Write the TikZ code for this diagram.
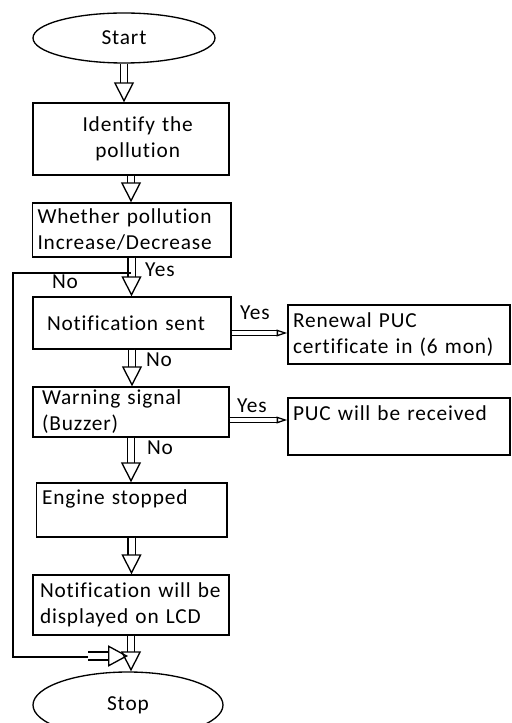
\documentclass[tikz,border=0pt]{standalone}
\usepackage{fontspec}
\setmainfont[Ligatures={NoCommon},LetterSpace=4]{Carlito}
\usetikzlibrary{shapes.geometric,arrows.meta}

\begin{document}
\begin{tikzpicture}[x=0.75pt,y=-0.75pt,line width=1pt,
	every node/.style={font=\fontsize{16}{19.5}\selectfont},
	ovalnode/.style={ellipse,draw,inner sep=0pt},
	squarednode/.style={rectangle,draw,inner ysep=0pt,align=left},
	blockarrow/.style={double,double distance=4.5pt,-{Triangle[open,length=15pt,width=15pt]}},
	widearrow/.style={double,double distance=5pt,-{Triangle[open,length=15pt,width=16pt]}},
	sidearrow/.style={double,double distance=3pt,-{Triangle[open,length=8pt,width=5pt]}}]
	
	\useasboundingbox (0,0) rectangle (511,723);
	
	\node [ovalnode, minimum width=136.5pt, minimum height=37.5pt] (0) at (124, 38) {Start};
	\node [squarednode, minimum width=147pt, minimum height=54pt, text width=136pt, align=center] (1) at (131, 139) {\hspace*{10pt}Identify the\\\hspace*{10pt}pollution};
	\node [squarednode, minimum width=149pt, minimum height=40.5pt, inner xsep=4pt, text width=141pt] (2) at (131.5, 230) {Whether pollution\\Increase/Decrease};
	\node [squarednode, minimum width=148.5pt, minimum height=39pt, inner xsep=10.5pt, text width=127.5pt] (3) at (132, 323) {Notification sent};
	\node [squarednode, minimum width=147pt, minimum height=37.5pt, inner xsep=6.75pt, text width=133.5pt] (4) at (131, 412) {Warning signal\\(Buzzer)};
	\node [squarednode, minimum width=143pt, minimum height=40.5pt, inner xsep=4.5pt, text width=134pt] (5) at (131.5, 510) {Engine stopped\\\mbox{}};
	\node [squarednode, minimum width=147pt, minimum height=45pt, inner xsep=5.25pt, text width=136.5pt] (6) at (131, 605) {Notification will be\\displayed on LCD};
	\node [ovalnode, minimum width=142.5pt, minimum height=49.5pt] (7) at (128, 705) {Stop};
	\node [squarednode, minimum width=166.5pt, minimum height=44.25pt, inner xsep=3.75pt, text width=159pt] (8) at (399, 334.5) {Renewal PUC\\certificate in (6 mon)};
	\node [squarednode, minimum width=166.5pt, minimum height=42.75pt, inner xsep=3.75pt, text width=159pt] (9) at (399, 426.5) {PUC will be received\\\mbox{}};
	
	\node (10) at (160, 270) {Yes};
	\node (11) at (65, 282) {No};
	\node (12) at (159, 360) {No};
	\node (13) at (255, 313) {Yes};
	\node (14) at (252, 406) {Yes};
	\node (15) at (160, 448) {No};
	
	\coordinate (c0) at (131, 273);
	\coordinate (c1) at (13, 657);
	\coordinate (c2) at (88, 656);
	
	\draw [blockarrow] (0.south) to (0.south |- 1.north);
	\draw [blockarrow] (1.south) to (1.south |- 2.north);
	\draw [blockarrow] (2.south) to (2.south |- 3.north);
	\draw [blockarrow] (3.south) to (3.south |- 4.north);
	\draw [blockarrow] (4.south) to (4.south |- 5.north);
	\draw [blockarrow] (5.south) to (5.south |- 6.north);
	\draw [blockarrow] (6.south) to (6.south |- 7.north);
	\draw [sidearrow] ([yshift=-7.5pt]3.east) to ([yshift=-7.5pt]3.east -| 8.west);
	\draw [sidearrow] ([yshift=-6pt]4.east) to ([yshift=-6pt]4.east -| 9.west);
	
	\draw (c0) -| (c1) -- (c1 -| c2);
	\draw [widearrow] (c2) to (c2 -| 7.north);
\end{tikzpicture}
\end{document}
